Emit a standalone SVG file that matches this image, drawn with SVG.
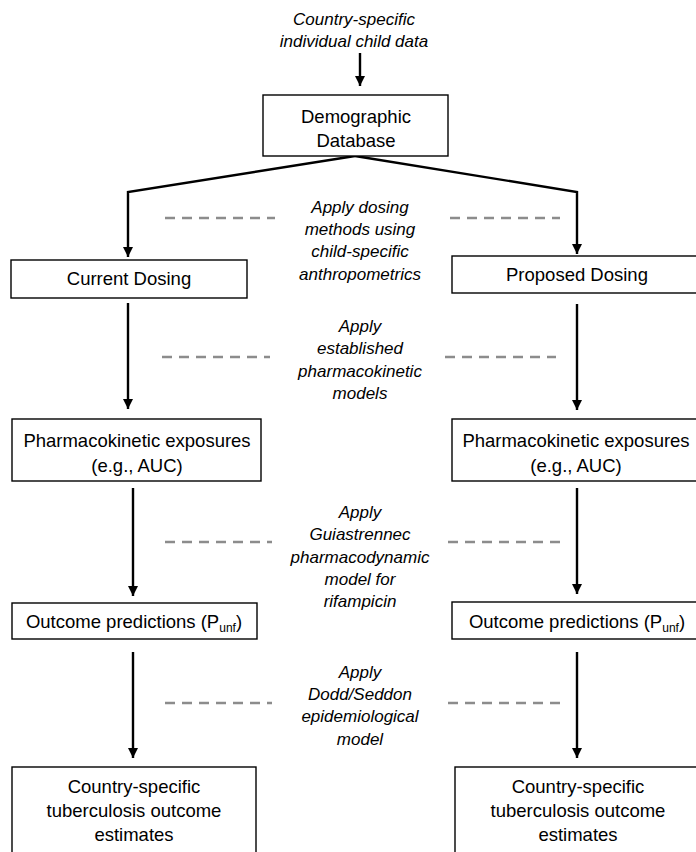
<svg xmlns="http://www.w3.org/2000/svg" width="696" height="852" viewBox="0 0 696 852">
  <defs>
    <marker id="arrow" markerUnits="userSpaceOnUse" markerWidth="10" markerHeight="10" refX="10" refY="5" orient="auto">
      <path d="M0,0 L10,5 L0,10 Z" fill="#000"/>
    </marker>
    <style>
      .box { fill: #fff; stroke: #000; stroke-width: 1.4; }
      .lbl { font-family: "Liberation Sans", Arial, sans-serif; font-size: 18.5px; fill: #000; text-anchor: middle; }
      .sub { font-size: 12px; }
      .note { font-family: "Liberation Sans", Arial, sans-serif; font-size: 17px; font-style: italic; fill: #000; text-anchor: middle; }
      .conn { fill: none; stroke: #000; stroke-width: 2.4; marker-end: url(#arrow); }
      .dash { fill: none; stroke: #8c8c8c; stroke-width: 2.4; stroke-dasharray: 10 7; }
    </style>
  </defs>
  <rect width="696" height="852" fill="#fff"/>

  <g id="connectors">
    <path class="conn" d="M360,53 L360,86"/>
    <path class="conn" d="M355,156 L128,192 L128,257"/>
    <path class="conn" d="M355,156 L577,192 L577,254"/>
    <path class="conn" d="M128,303 L128,409"/>
    <path class="conn" d="M577,304 L577,410"/>
    <path class="conn" d="M133,488 L133,596"/>
    <path class="conn" d="M577,488 L577,594"/>
    <path class="conn" d="M133,652 L133,758"/>
    <path class="conn" d="M577,652 L577,758"/>
  </g>

  <g id="guides">
    <path class="dash" d="M165,218 H275 M450,218 H560"/>
    <path class="dash" d="M162,357 H270 M445,357 H556"/>
    <path class="dash" d="M165,542 H272 M448,542 H560"/>
    <path class="dash" d="M165,703 H272 M448,703 H560"/>
  </g>

  <g id="input">
    <text class="note" x="354" y="25">Country-specific</text>
    <text class="note" x="354" y="47">individual child data</text>
  </g>

  <g id="demographic">
    <rect class="box" x="263" y="95" width="185" height="61"/>
    <text class="lbl" x="356" y="123">Demographic</text>
    <text class="lbl" x="356" y="147">Database</text>
  </g>

  <g id="current-dosing">
    <rect class="box" x="11" y="260" width="236" height="38"/>
    <text class="lbl" x="129" y="285">Current Dosing</text>
  </g>

  <g id="proposed-dosing">
    <rect class="box" x="452" y="256" width="250" height="37"/>
    <text class="lbl" x="577" y="281">Proposed Dosing</text>
  </g>

  <g id="step-dosing">
    <text class="note" x="360" y="213">Apply dosing</text>
    <text class="note" x="360" y="235">methods using</text>
    <text class="note" x="360" y="257">child-specific</text>
    <text class="note" x="360" y="280">anthropometrics</text>
  </g>

  <g id="step-pk">
    <text class="note" x="360" y="332">Apply</text>
    <text class="note" x="360" y="354">established</text>
    <text class="note" x="360" y="377">pharmacokinetic</text>
    <text class="note" x="360" y="399">models</text>
  </g>

  <g id="pk-current">
    <rect class="box" x="12" y="419" width="249" height="62"/>
    <text class="lbl" x="137" y="447">Pharmacokinetic exposures</text>
    <text class="lbl" x="137" y="472">(e.g., AUC)</text>
  </g>

  <g id="pk-proposed">
    <rect class="box" x="452" y="419" width="250" height="62"/>
    <text class="lbl" x="576" y="447">Pharmacokinetic exposures</text>
    <text class="lbl" x="576" y="472">(e.g., AUC)</text>
  </g>

  <g id="step-pd">
    <text class="note" x="360" y="518">Apply</text>
    <text class="note" x="360" y="540">Guiastrennec</text>
    <text class="note" x="360" y="563">pharmacodynamic</text>
    <text class="note" x="360" y="585">model for</text>
    <text class="note" x="360" y="607">rifampicin</text>
  </g>

  <g id="outcome-current">
    <rect class="box" x="12" y="603" width="245" height="36"/>
    <text class="lbl" x="134" y="628">Outcome predictions (P<tspan class="sub" dy="4">unf</tspan><tspan dy="-4">)</tspan></text>
  </g>

  <g id="outcome-proposed">
    <rect class="box" x="452" y="602" width="250" height="37"/>
    <text class="lbl" x="577" y="628">Outcome predictions (P<tspan class="sub" dy="4">unf</tspan><tspan dy="-4">)</tspan></text>
  </g>

  <g id="step-epi">
    <text class="note" x="360" y="678">Apply</text>
    <text class="note" x="360" y="700">Dodd/Seddon</text>
    <text class="note" x="360" y="722">epidemiological</text>
    <text class="note" x="360" y="745">model</text>
  </g>

  <g id="estimates-current">
    <rect class="box" x="12" y="767" width="244" height="100"/>
    <text class="lbl" x="134" y="793">Country-specific</text>
    <text class="lbl" x="134" y="817">tuberculosis outcome</text>
    <text class="lbl" x="134" y="841">estimates</text>
  </g>

  <g id="estimates-proposed">
    <rect class="box" x="455" y="767" width="250" height="100"/>
    <text class="lbl" x="578" y="793">Country-specific</text>
    <text class="lbl" x="578" y="817">tuberculosis outcome</text>
    <text class="lbl" x="578" y="841">estimates</text>
  </g>
</svg>
